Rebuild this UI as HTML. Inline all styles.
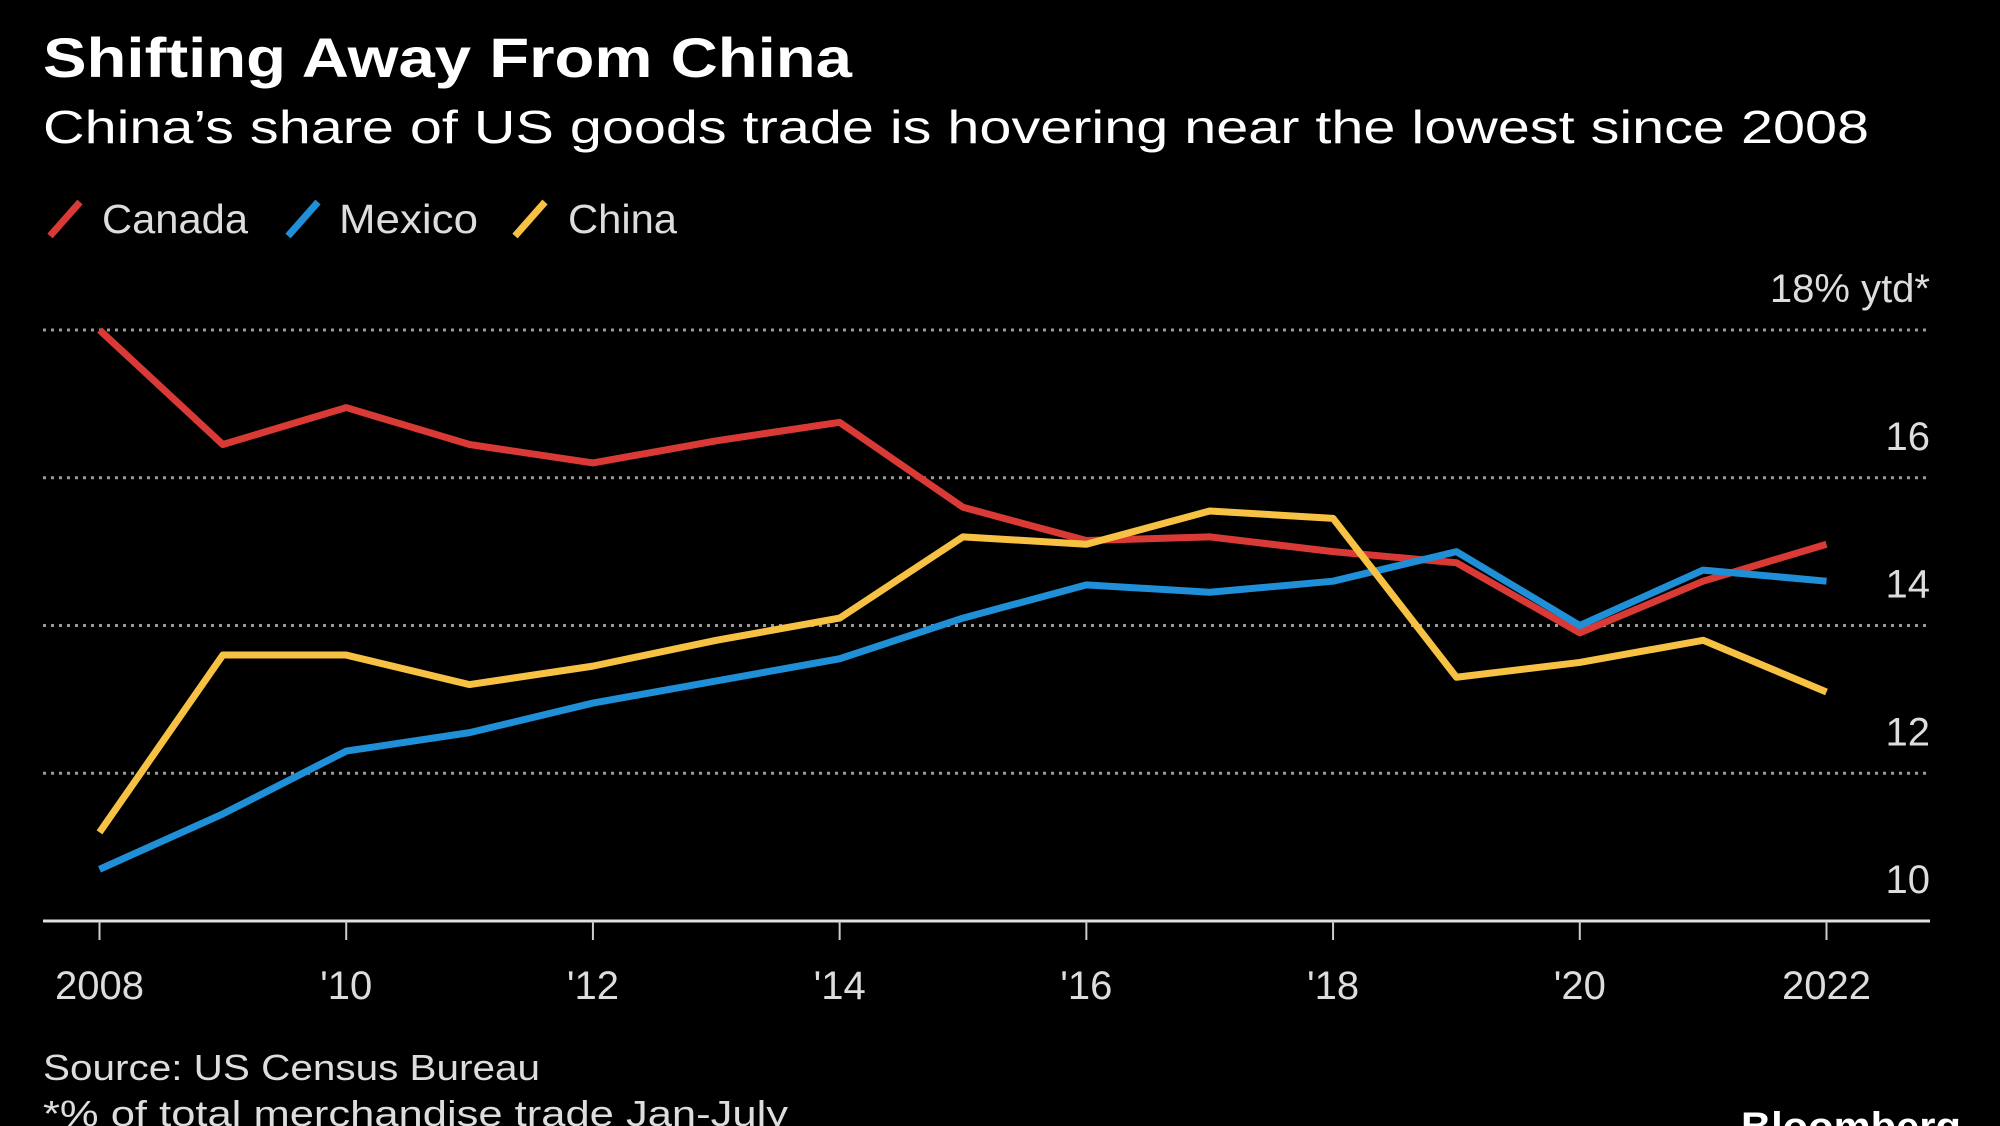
<!DOCTYPE html>
<html><head><meta charset="utf-8"><style>
html,body{margin:0;padding:0;background:#000;}
svg{display:block;font-family:"Liberation Sans","DejaVu Sans",sans-serif;}
</style></head><body>
<svg id="chart" width="2000" height="1126" viewBox="0 0 2000 1126" xmlns="http://www.w3.org/2000/svg">
<rect width="2000" height="1126" fill="#000"/>
<text x="43" y="77" fill="#fff" font-size="56" font-weight="bold" textLength="809" lengthAdjust="spacingAndGlyphs">Shifting Away From China</text>
<text x="43" y="143" fill="#fff" font-size="46" textLength="1826" lengthAdjust="spacingAndGlyphs">China’s share of US goods trade is hovering near the lowest since 2008</text>
<g>
<g><line x1="50" y1="236" x2="80" y2="202" stroke="#d93a35" stroke-width="7"/><text x="102" y="233" fill="#ddd" font-size="41" textLength="146" lengthAdjust="spacingAndGlyphs">Canada</text></g>
<g><line x1="288" y1="236" x2="318" y2="202" stroke="#1f8fd8" stroke-width="7"/><text x="339" y="233" fill="#ddd" font-size="41" textLength="139" lengthAdjust="spacingAndGlyphs">Mexico</text></g>
<g><line x1="515" y1="236" x2="545" y2="202" stroke="#f7c244" stroke-width="7"/><text x="568" y="233" fill="#ddd" font-size="41" textLength="109" lengthAdjust="spacingAndGlyphs">China</text></g>
</g>
<g id="grid"></g>
<g id="ylabels"></g>
<g id="xaxis"></g>
<g id="series"></g>
<text x="43" y="1080" fill="#ddd" font-size="36" textLength="497" lengthAdjust="spacingAndGlyphs">Source: US Census Bureau</text>
<text x="43" y="1126" fill="#ddd" font-size="36" textLength="745" lengthAdjust="spacingAndGlyphs">*% of total merchandise trade Jan-July</text>
<text x="1741" y="1140" fill="#fff" font-size="40" font-weight="bold" textLength="220" lengthAdjust="spacingAndGlyphs">Bloomberg</text>
</svg>
<script>
const years = [2008,2009,2010,2011,2012,2013,2014,2015,2016,2017,2018,2019,2020,2021,2022];
const canada = [18.0,16.45,16.95,16.45,16.2,16.5,16.75,15.6,15.15,15.2,15.0,14.85,13.9,14.6,15.1];
const mexico = [10.7,11.45,12.3,12.55,12.95,13.25,13.55,14.1,14.55,14.45,14.6,15.0,14.0,14.75,14.6];
const china = [11.2,13.6,13.6,13.2,13.45,13.8,14.1,15.2,15.1,15.55,15.45,13.3,13.5,13.8,13.1];
const yTicks = [10,12,14,16,18];
const yTickLabels = ["10","12","14","16","18% ytd*"];
const xTicks = [2008,2010,2012,2014,2016,2018,2020,2022];
const xTickLabels = ["2008","'10","'12","'14","'16","'18","'20","2022"];

const NS = "http://www.w3.org/2000/svg";
const x = y => 99.5 + (y - 2008) * (1826.5 - 99.5) / 14;
const yS = v => 921 - (v - 10) * (921 - 330) / 8;
function mk(tag, attrs, parent){const e=document.createElementNS(NS,tag);for(const k in attrs)e.setAttribute(k,attrs[k]);parent.appendChild(e);return e;}

const grid=document.getElementById('grid'), yl=document.getElementById('ylabels'), xa=document.getElementById('xaxis'), ser=document.getElementById('series');
yTicks.forEach((t,i)=>{
  if(t>10){
    const g=mk('line',{x1:43,x2:1930,y1:yS(t),y2:yS(t),stroke:'#9a9a9a','stroke-width':3,'stroke-dasharray':'3 5'},grid);
    
    
  }
  const tx=mk('text',{x:1930,y:yS(t)-28,fill:'#ddd','font-size':40,'text-anchor':'end'},yl);
  tx.textContent=yTickLabels[i];
  
  
});
const base=mk('line',{x1:43,x2:1930,y1:921,y2:921,stroke:'#e0e0e0','stroke-width':3},xa);


xTicks.forEach((t,i)=>{
  const tk=mk('line',{x1:x(t),x2:x(t),y1:921,y2:940,stroke:'#ccc','stroke-width':2},xa);
  
  
  const tx=mk('text',{x:x(t),y:999,fill:'#ddd','font-size':40,'text-anchor':'middle'},xa);
  tx.textContent=xTickLabels[i];
  
  
});
[[canada,'#d93a35','canada'],[mexico,'#1f8fd8','mexico'],[china,'#f7c244','china']].forEach(([d,c,n])=>{
  const p=mk('polyline',{points:d.map((v,i)=>x(years[i])+','+yS(v)).join(' '),fill:'none',stroke:c,'stroke-width':7,'stroke-linejoin':'round'},ser);
  
  
});
</script>
</body></html>
